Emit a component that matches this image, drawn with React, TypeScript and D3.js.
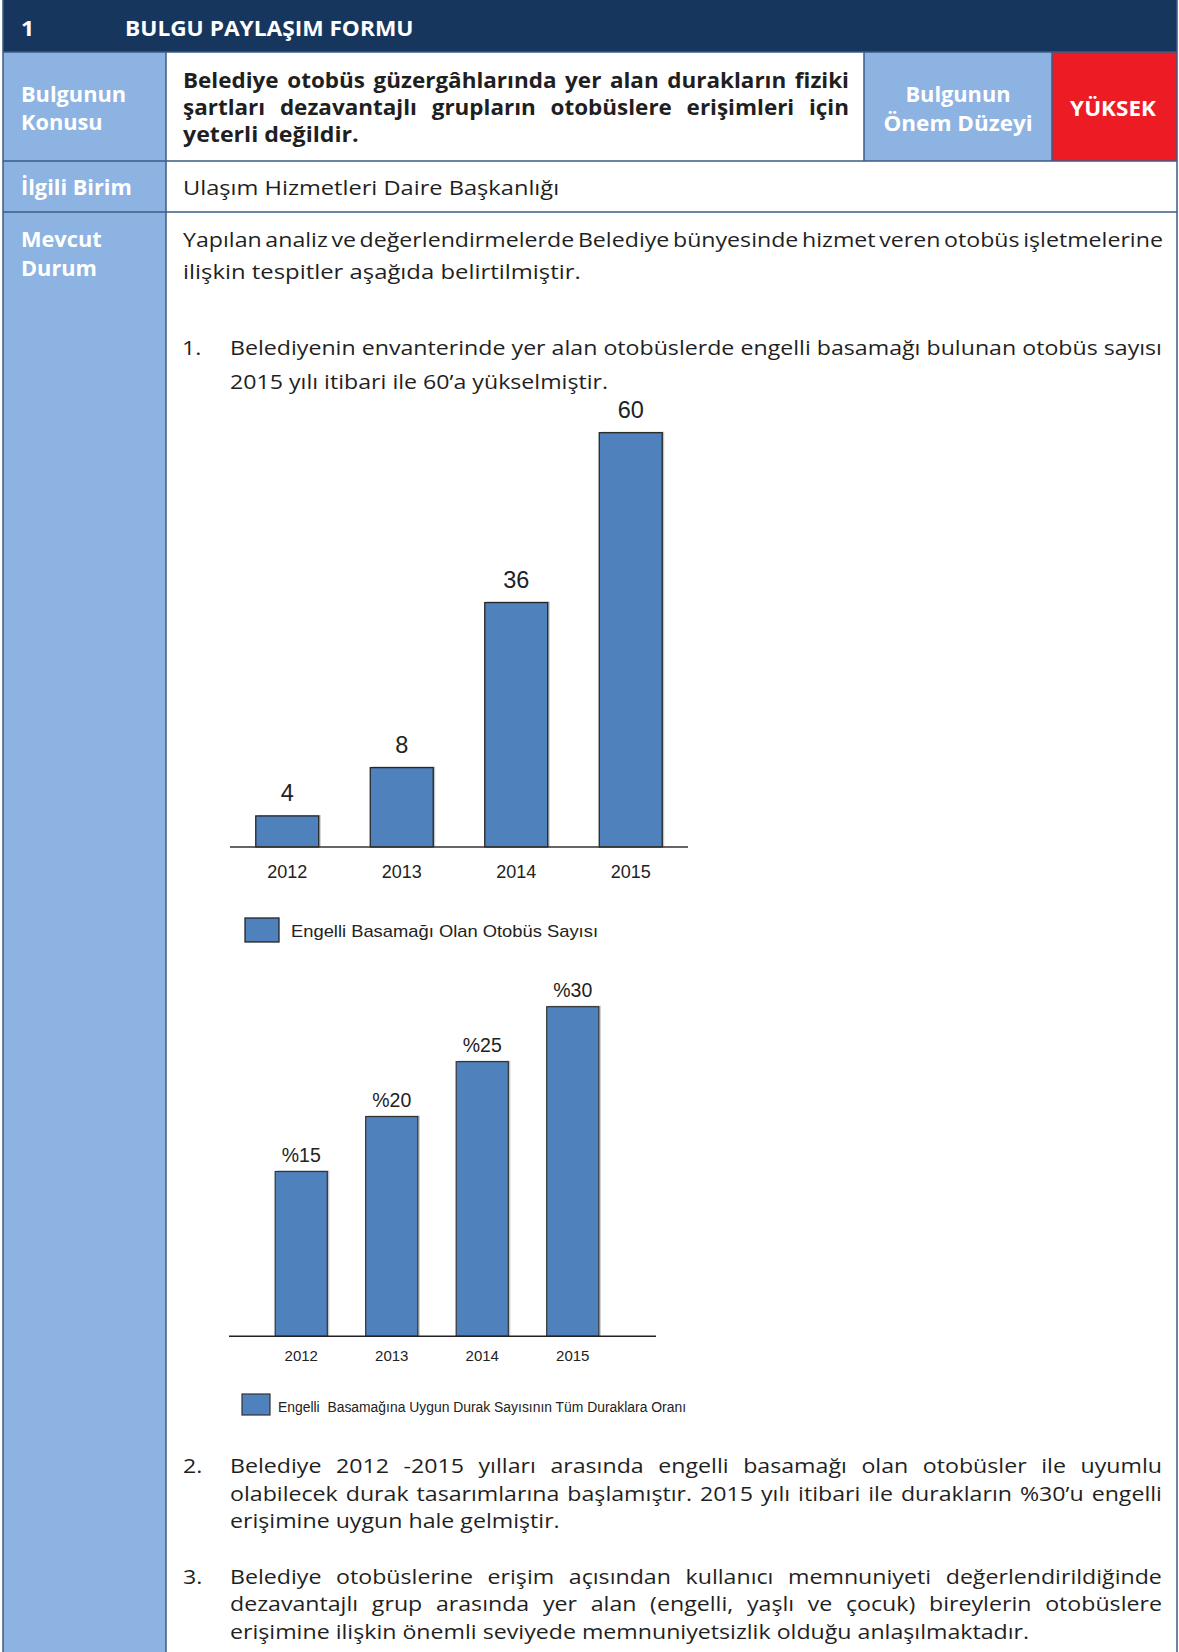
import React, { useLayoutEffect, useRef } from "react";
import * as d3 from "d3";

// ---------- data ----------
const years = ["2012", "2013", "2014", "2015"];
const busCountLabels = ["4", "8", "36", "60"];
// bar lengths as drawn in the reference (units of the 0–60 axis)
const busCountBars = [4.5, 11.5, 35.4, 60];
const stopShareValues = [15, 20, 25, 30];
const stopShareLabels = ["%15", "%20", "%25", "%30"];
const legendBus = "Engelli Basamağı Olan Otobüs Sayısı";
const legendStop = "Engelli  Basamağına Uygun Durak Sayısının Tüm Duraklara Oranı";

type Line = {
  text: string;
  x0: number;
  x1?: number;
  y: number;
  justify?: boolean;
  bold?: boolean;
  anchor?: "start" | "middle";
  fill?: string;
  narrow?: number;
};

const WHITE = "#ffffff";
const INK = "#1f1f1f";

const formLabels: Line[] = [
  { text: "1", x0: 21, y: 36, bold: true, fill: WHITE },
  { text: "BULGU PAYLAŞIM FORMU", x0: 125, y: 36, bold: true, fill: WHITE, narrow: 0.98 },
  { text: "Bulgunun", x0: 21, y: 102, bold: true, fill: WHITE, narrow: 0.94 },
  { text: "Konusu", x0: 21, y: 130, bold: true, fill: WHITE, narrow: 0.94 },
  { text: "İlgili Birim", x0: 21, y: 195, bold: true, fill: WHITE, narrow: 0.94 },
  { text: "Mevcut", x0: 21, y: 247, bold: true, fill: WHITE, narrow: 0.94 },
  { text: "Durum", x0: 21, y: 276, bold: true, fill: WHITE, narrow: 0.94 },
  { text: "Bulgunun", x0: 958, y: 102, bold: true, fill: WHITE, anchor: "middle", narrow: 0.94 },
  { text: "Önem Düzeyi", x0: 958, y: 131, bold: true, fill: WHITE, anchor: "middle", narrow: 0.97 },
  { text: "YÜKSEK", x0: 1113, y: 116, bold: true, fill: WHITE, anchor: "middle", narrow: 0.97 },
];

const bodyLines: Line[] = [
  { text: "Belediye otobüs güzergâhlarında yer alan durakların fiziki", x0: 183, x1: 849, y: 88, justify: true, bold: true, narrow: 0.97 },
  { text: "şartları dezavantajlı grupların otobüslere erişimleri için", x0: 183, x1: 849, y: 115, justify: true, bold: true, narrow: 0.97 },
  { text: "yeterli değildir.", x0: 183, y: 142, bold: true },
  { text: "Ulaşım Hizmetleri Daire Başkanlığı", x0: 183, y: 195, narrow: 1.02 },
  { text: "Yapılan analiz ve değerlendirmelerde Belediye bünyesinde hizmet veren otobüs işletmelerine", x0: 183, x1: 1163, y: 247, justify: true },
  { text: "ilişkin tespitler aşağıda belirtilmiştir.", x0: 183, y: 279, narrow: 1.03 },
  { text: "1.", x0: 182, y: 355 },
  { text: "Belediyenin envanterinde yer alan otobüslerde engelli basamağı bulunan otobüs sayısı", x0: 230, x1: 1162, y: 355, justify: true },
  { text: "2015 yılı itibari ile 60’a yükselmiştir.", x0: 230, y: 389 },
  { text: "2.", x0: 183, y: 1473 },
  { text: "Belediye 2012 -2015 yılları arasında engelli basamağı olan otobüsler ile uyumlu", x0: 230, x1: 1162, y: 1473, justify: true },
  { text: "olabilecek durak tasarımlarına başlamıştır.  2015 yılı itibari ile durakların %30’u engelli", x0: 230, x1: 1162, y: 1501, justify: true },
  { text: "erişimine uygun hale gelmiştir.", x0: 230, y: 1528 },
  { text: "3.", x0: 183, y: 1584 },
  { text: "Belediye otobüslerine erişim açısından kullanıcı memnuniyeti değerlendirildiğinde", x0: 230, x1: 1162, y: 1584, justify: true },
  { text: "dezavantajlı grup arasında yer alan (engelli, yaşlı ve çocuk) bireylerin otobüslere", x0: 230, x1: 1162, y: 1611, justify: true },
  { text: "erişimine ilişkin önemli seviyede memnuniyetsizlik olduğu anlaşılmaktadır.", x0: 230, y: 1639 },
];

const BODY_FONT = "'Open Sans', Lato, sans-serif";
const BODY_SIZE = 20.5;
const CHART_FONT = "'Liberation Sans', Arial, sans-serif";
const NAVY = "#17365D";
const LIGHT = "#8DB3E2";
const RED = "#ED1C24";
const BAR = "#4F81BD";
const GRID = "#3B5B86";

export default function App() {
  const ref = useRef<SVGSVGElement | null>(null);

  useLayoutEffect(() => {
    const draw = () => {
      const g = d3.select(ref.current).select("g.body");
      g.selectAll("*").remove();
      const mk = (t: string, l: Line) =>
        g
          .append("text")
          .attr("font-family", BODY_FONT)
          .attr("font-size", BODY_SIZE)
          .attr("font-weight", l.bold ? 700 : 400)
          .attr("fill", l.fill || INK)
          .attr("text-anchor", l.anchor || "start")
          .style("white-space", "pre")
          .text(t);

      // calibrate a horizontal scale so the regular text has the reference's set width
      const cal = bodyLines[7];
      const calWords = cal.text.split(" ").filter((w) => w.length > 0);
      const probes = calWords.map((w) => mk(w, cal));
      const calSum = d3.sum(probes.map((p: any) => (p.node() as SVGTextElement).getComputedTextLength()));
      probes.forEach((p: any) => p.remove());
      const sx0 = calSum > 0 ? (cal.x1! - cal.x0 - (calWords.length - 1) * 6) / calSum : 1;

      [...formLabels, ...bodyLines].forEach((l) => {
        const sx = sx0 * (l.narrow || 1);
        const place = (n: any, x: number, y: number) => n.attr("transform", `translate(${x},${y}) scale(${sx},1)`);
        if (!l.justify) {
          place(mk(l.text, l), l.x0, l.y);
          return;
        }
        const words = l.text.split(" ").filter((w) => w.length > 0);
        const nodes = words.map((w) => mk(w, l));
        const widths = nodes.map((n: any) => (n.node() as SVGTextElement).getComputedTextLength() * sx);
        const gap = (l.x1! - l.x0 - d3.sum(widths)) / (words.length - 1);
        let x = l.x0;
        nodes.forEach((n: any, i: number) => {
          place(n, x, l.y);
          x += widths[i] + gap;
        });
      });
    };
    draw();
    const fonts = (document as any).fonts;
    if (fonts && fonts.ready) fonts.ready.then(draw);
  }, []);

  // chart 1 scales
  const x1 = d3.scaleBand<string>().domain(years).range([230, 688]).paddingInner(0.45).paddingOuter(0.225);
  const y1 = d3.scaleLinear().domain([0, 60]).range([847, 432.7]);
  // chart 2 scales
  const x2 = d3.scaleBand<string>().domain(years).range([256, 618]).paddingInner(0.424).paddingOuter(0.212);
  const y2 = d3.scaleLinear().domain([0, 30]).range([1336.3, 1006.7]);

  const W = 1179;
  const H = 1652;
  const L = 3;
  const R = 1177;
  const colL = 166;

  return (
    <div style={{ position: "absolute", left: 0, top: 0 }}>
      <svg ref={ref} width={W} height={H} viewBox={`0 0 ${W} ${H}`} style={{ display: "block", background: "#fff" }}>
        {/* header */}
        <rect x={L} y={0} width={R - L} height={52} fill={NAVY} />

        {/* left column */}
        <rect x={L} y={52} width={colL - L} height={H - 52} fill={LIGHT} />
        {/* önem cell and red cell */}
        <rect x={864} y={52} width={1052 - 864} height={161 - 52} fill={LIGHT} />
        <rect x={1052} y={52} width={R - 1052} height={161 - 52} fill={RED} />

        {/* grid lines */}
        <g stroke={GRID} strokeWidth={1.5} fill="none">
          <line x1={L} y1={52} x2={R} y2={52} />
          <line x1={L} y1={161} x2={R} y2={161} />
          <line x1={L} y1={212} x2={R} y2={212} />
          <line x1={L} y1={0} x2={L} y2={H} />
          <line x1={R} y1={0} x2={R} y2={H} />
          <line x1={colL} y1={52} x2={colL} y2={H} />
          <line x1={864} y1={52} x2={864} y2={161} />
          <line x1={1052} y1={52} x2={1052} y2={161} />
        </g>

        {/* all form text (placed and justified in effect) */}
        <g className="body" />

        {/* chart 1 */}
        <g>
          {years.map((yr, i) => {
            const bx = x1(yr)!;
            const bw = x1.bandwidth();
            const top = y1(busCountBars[i]);
            return (
              <g key={"b1" + yr}>
                <rect x={bx + 2} y={top - 1} width={bw} height={y1(0) - top + 1} fill="#c8c8c8" />
                <rect x={bx} y={top} width={bw} height={y1(0) - top} fill={BAR} stroke="#262626" strokeWidth={1.3} />
                <text x={bx + bw / 2} y={top - 15} textAnchor="middle" fontFamily={CHART_FONT} fontSize={23.5} fill="#222">
                  {busCountLabels[i]}
                </text>
                <text x={bx + bw / 2} y={878} textAnchor="middle" fontFamily={CHART_FONT} fontSize={18} fill="#222">
                  {yr}
                </text>
              </g>
            );
          })}
          <line x1={230} x2={688} y1={y1(0)} y2={y1(0)} stroke="#333" strokeWidth={1.5} />
          <rect x={245} y={918} width={34} height={24} fill={BAR} stroke="#262626" strokeWidth={1.3} />
          <text x={291} y={937} fontFamily={CHART_FONT} fontSize={17} fill="#222" textLength={307} lengthAdjust="spacingAndGlyphs">
            {legendBus}
          </text>
        </g>

        {/* chart 2 */}
        <g>
          {years.map((yr, i) => {
            const bx = x2(yr)!;
            const bw = x2.bandwidth();
            const top = y2(stopShareValues[i]);
            return (
              <g key={"b2" + yr}>
                <rect x={bx + 2} y={top - 1} width={bw} height={y2(0) - top + 1} fill="#c8c8c8" />
                <rect x={bx} y={top} width={bw} height={y2(0) - top} fill={BAR} stroke="#333" strokeWidth={1.2} />
                <text x={bx + bw / 2} y={top - 10} textAnchor="middle" fontFamily={CHART_FONT} fontSize={19.5} fill="#222">
                  {stopShareLabels[i]}
                </text>
                <text x={bx + bw / 2} y={1361} textAnchor="middle" fontFamily={CHART_FONT} fontSize={15} fill="#222">
                  {yr}
                </text>
              </g>
            );
          })}
          <line x1={229} x2={656} y1={y2(0)} y2={y2(0)} stroke="#222" strokeWidth={1.5} />
          <rect x={242} y={1394} width={28} height={21} fill={BAR} stroke="#333" strokeWidth={1.2} />
          <text x={278} y={1412} fontFamily={CHART_FONT} fontSize={14} fill="#222" textLength={408} lengthAdjust="spacingAndGlyphs" style={{ whiteSpace: "pre" }}>
            {legendStop}
          </text>
        </g>
      </svg>
    </div>
  );
}
